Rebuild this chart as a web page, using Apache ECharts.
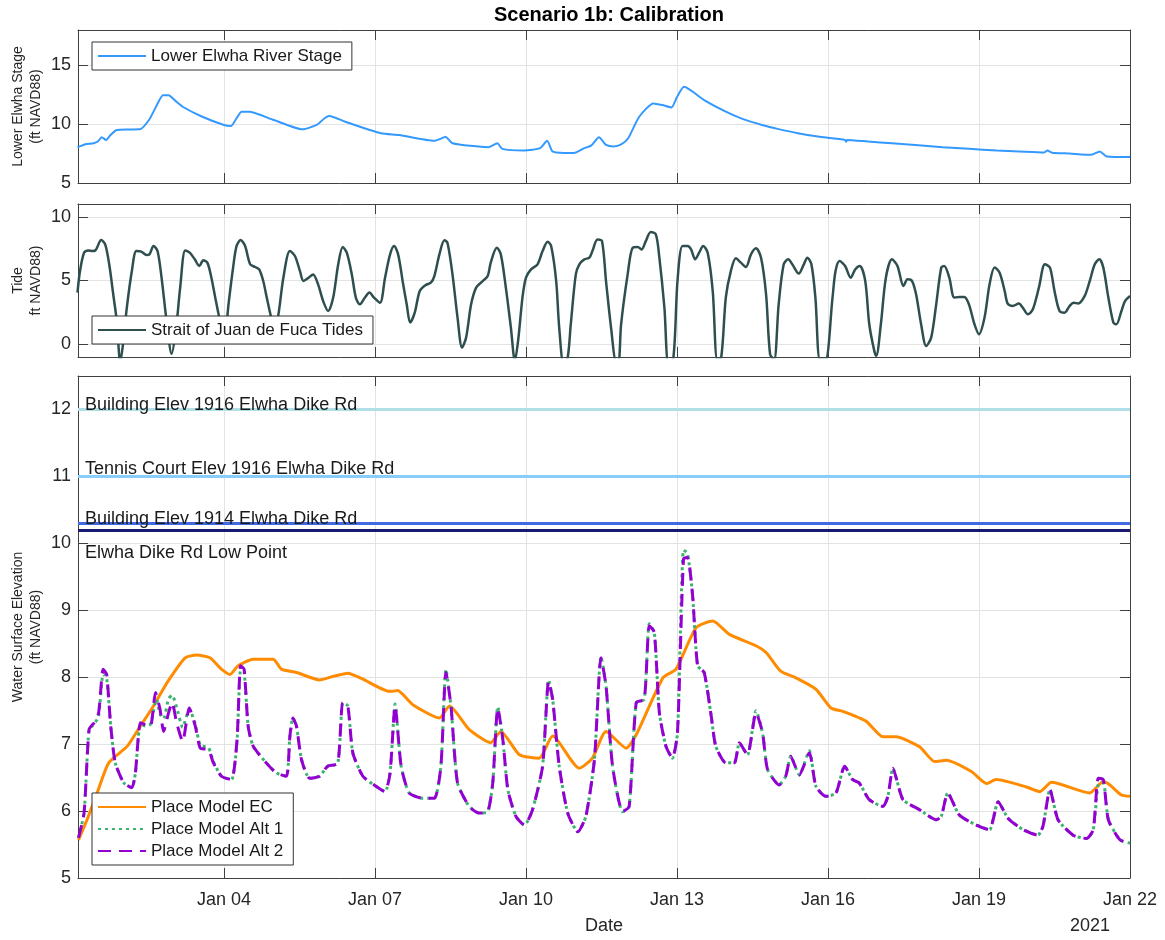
<!DOCTYPE html>
<html>
<head>
<meta charset="utf-8">
<script src="https://cdn.jsdelivr.net/npm/echarts@6/dist/echarts.min.js"></script>
<style>
  html, body { margin: 0; padding: 0; background: #fff; }
  #chart { width: 1165px; height: 940px; }
</style>
</head>
<body>
<div id="chart"></div>
<script>
// x values are days of January 2021 (1.5 = Jan 01 12:00)
const xTickDays = [4, 7, 10, 13, 16, 19, 22];
const xTickLabels = ['Jan 04', 'Jan 07', 'Jan 10', 'Jan 13', 'Jan 16', 'Jan 19', 'Jan 22'];
const stageTicks = [5, 10, 15];
const tideTicks = [0, 5, 10];
const wseTicks = [5, 6, 7, 8, 9, 10, 11, 12];

const riverStage = [
  [1.09,8.04],[1.25,8.3],[1.41,8.38],[1.5,8.55],[1.57,8.89],[1.66,8.66],[1.75,9.1],[1.87,9.51],
  [2.1,9.55],[2.33,9.56],[2.51,10.35],[2.65,11.48],[2.79,12.46],[2.9,12.46],[3.03,12.0],[3.18,11.48],
  [3.57,10.63],[4.0,9.93],[4.14,9.85],[4.25,10.5],[4.35,11.06],[4.5,11.06],[4.99,10.35],[5.56,9.56],
  [5.84,9.93],[6.0,10.5],[6.09,10.69],[6.41,10.21],[7.12,9.23],[7.48,9.08],[8.18,8.58],[8.3,8.75],
  [8.4,8.94],[8.54,8.38],[9.25,8.04],[9.43,8.38],[9.53,7.9],[9.96,7.76],[10.28,7.96],[10.42,8.58],
  [10.52,7.7],[10.6,7.59],[10.95,7.54],[11.16,7.96],[11.3,8.2],[11.45,8.89],[11.59,8.24],[11.74,8.1],
  [11.9,8.3],[12.03,8.8],[12.25,10.63],[12.53,11.76],[12.71,11.62],[12.89,11.42],[13.0,12.3],[13.14,13.17],
  [13.54,12.04],[13.97,11.06],[14.3,10.45],[14.69,9.93],[15.0,9.6],[15.4,9.23],[15.8,8.95],[16.34,8.66],
  [16.36,8.5],[16.38,8.66],[16.8,8.52],[17.27,8.38],[17.8,8.2],[18.28,8.04],[18.8,7.9],[19.35,7.76],
  [19.8,7.68],[20.29,7.59],[20.36,7.76],[20.45,7.58],[20.8,7.5],[21.22,7.39],[21.4,7.68],[21.54,7.25],
  [22.0,7.2]
];

const tide = [
  [1.09,4.05],[1.14,5.74],[1.22,7.18],[1.3,7.36],[1.4,7.31],[1.46,7.44],[1.56,8.17],[1.64,7.83],
  [1.72,6.27],[1.8,3.92],[1.87,1.83],[1.94,-1.4],[2.0,0.2],[2.07,2.87],[2.17,5.74],[2.26,7.31],
  [2.36,7.26],[2.46,7.0],[2.52,7.05],[2.6,7.7],[2.68,7.31],[2.76,5.22],[2.86,1.83],[2.96,-0.75],
  [3.05,1.31],[3.13,4.44],[3.23,7.36],[3.32,7.18],[3.42,6.66],[3.51,6.14],[3.59,6.58],[3.67,6.4],
  [3.75,5.22],[3.84,3.39],[3.92,1.83],[3.99,0.6],[4.05,1.6],[4.09,3.13],[4.19,6.27],[4.25,7.7],
  [4.33,8.17],[4.42,7.7],[4.52,6.27],[4.62,6.06],[4.7,5.87],[4.78,4.96],[4.85,3.66],[4.93,2.22],
  [5.0,1.2],[5.08,2.3],[5.18,5.22],[5.31,7.31],[5.41,6.92],[5.51,5.74],[5.58,4.96],[5.68,5.22],
  [5.77,5.48],[5.87,4.7],[5.97,3.39],[6.07,2.61],[6.17,3.66],[6.27,6.27],[6.36,7.62],[6.44,7.18],
  [6.54,5.48],[6.62,3.66],[6.7,3.13],[6.8,3.66],[6.89,4.05],[6.98,3.66],[7.1,3.26],[7.2,5.22],
  [7.3,7.05],[7.38,7.7],[7.46,7.05],[7.56,4.7],[7.63,3.13],[7.7,1.7],[7.79,2.48],[7.89,4.18],
  [8.01,4.65],[8.11,4.83],[8.18,5.35],[8.28,7.05],[8.38,8.15],[8.44,7.96],[8.54,5.48],[8.64,2.09],
  [8.73,-0.26],[8.81,0.52],[8.91,3.13],[9.01,4.44],[9.14,4.96],[9.24,5.35],[9.3,6.4],[9.42,7.57],
  [9.5,7.05],[9.6,4.44],[9.7,1.31],[9.78,-1.3],[9.85,0.5],[9.93,3.66],[10.0,5.22],[10.1,5.87],
  [10.23,6.27],[10.33,7.31],[10.43,8.04],[10.5,7.7],[10.6,4.96],[10.66,1.31],[10.75,-1.6],[10.83,-1.0],
  [10.89,1.57],[10.99,5.48],[11.06,6.27],[11.16,6.66],[11.26,6.79],[11.32,7.31],[11.42,8.22],[11.51,8.09],
  [11.59,4.96],[11.69,1.31],[11.79,-1.3],[11.84,-1.3],[11.89,1.57],[12.02,5.48],[12.12,7.57],[12.22,7.62],
  [12.3,7.44],[12.38,8.09],[12.48,8.8],[12.58,8.62],[12.65,6.79],[12.75,2.87],[12.83,-1.5],[12.93,-1.0],
  [13.01,4.96],[13.11,7.7],[13.21,7.7],[13.28,7.44],[13.36,6.66],[13.44,7.18],[13.52,7.7],[13.61,7.18],
  [13.71,4.18],[13.8,-1.2],[13.88,-1.0],[13.97,3.66],[14.07,5.74],[14.17,6.74],[14.27,6.4],[14.37,6.06],
  [14.47,7.05],[14.57,7.52],[14.67,6.79],[14.77,3.92],[14.85,-0.8],[14.93,-1.2],[15.02,3.13],[15.12,6.27],
  [15.21,6.66],[15.29,6.27],[15.42,5.54],[15.52,6.27],[15.59,6.79],[15.67,6.27],[15.75,3.66],[15.84,-1.2],
  [15.95,-1.2],[16.09,3.66],[16.15,5.74],[16.23,6.53],[16.34,6.14],[16.45,5.22],[16.54,5.87],[16.63,6.14],
  [16.74,4.96],[16.82,1.57],[16.92,-0.52],[16.96,-0.91],[17.05,1.57],[17.15,5.22],[17.27,6.66],[17.38,6.14],
  [17.5,4.57],[17.58,5.09],[17.67,4.96],[17.75,3.92],[17.85,1.57],[17.95,-0.13],[18.05,0.52],[18.15,3.13],
  [18.25,6.01],[18.31,6.14],[18.41,5.22],[18.51,3.66],[18.61,3.71],[18.71,3.71],[18.8,3.13],[18.91,1.57],
  [19.0,0.78],[19.11,2.09],[19.21,4.7],[19.31,6.01],[19.41,5.61],[19.51,4.18],[19.57,3.19],[19.67,3.0],
  [19.79,3.19],[19.87,2.87],[19.97,2.35],[20.07,2.74],[20.19,4.44],[20.31,6.27],[20.41,6.01],[20.5,4.18],
  [20.6,2.61],[20.7,2.48],[20.8,3.0],[20.88,3.26],[20.97,3.19],[21.1,3.79],[21.2,4.96],[21.3,6.27],
  [21.39,6.66],[21.47,6.01],[21.57,3.66],[21.67,1.7],[21.73,1.57],[21.83,2.61],[21.9,3.39],[22.0,3.79]
];

const modelEC = [
  [1.11,5.57],[1.28,5.87],[1.48,6.27],[1.71,6.72],[2.08,6.97],[2.34,7.27],[2.6,7.57],[2.87,7.92],
  [3.23,8.29],[3.46,8.33],[3.72,8.29],[3.95,8.12],[4.12,8.04],[4.28,8.17],[4.58,8.27],[4.98,8.27],
  [5.14,8.12],[5.44,8.07],[5.9,7.96],[6.16,8.01],[6.46,8.06],[6.76,7.97],[7.28,7.79],[7.35,7.79],
  [7.45,7.8],[7.75,7.59],[8.28,7.39],[8.48,7.57],[8.87,7.22],[9.3,7.02],[9.5,7.19],[9.87,6.84],
  [10.26,6.79],[10.53,7.12],[11.06,6.64],[11.32,6.79],[11.59,7.19],[11.99,6.94],[12.19,7.14],[12.72,7.99],
  [12.98,8.12],[13.38,8.74],[13.71,8.84],[14.04,8.64],[14.57,8.47],[14.77,8.37],[15.06,8.09],[15.36,7.99],
  [15.76,7.82],[16.06,7.54],[16.29,7.49],[16.76,7.34],[17.09,7.11],[17.35,7.11],[17.82,6.96],[18.12,6.74],
  [18.35,6.76],[18.85,6.59],[19.15,6.41],[19.34,6.47],[19.94,6.36],[20.21,6.29],[20.44,6.43],[21.2,6.27],
  [21.47,6.44],[21.6,6.39],[21.83,6.24],[22.0,6.22]
];

const modelAlt1 = [
  [1.11,5.6],[1.22,5.97],[1.32,7.22],[1.42,7.3],[1.51,7.42],[1.6,8.05],[1.67,7.98],[1.75,7.27],
  [1.84,6.72],[2.01,6.42],[2.17,6.35],[2.24,6.57],[2.34,7.3],[2.44,7.27],[2.54,7.3],[2.66,7.67],
  [2.73,7.45],[2.8,7.38],[2.9,7.68],[2.97,7.73],[3.06,7.55],[3.18,7.25],[3.31,7.52],[3.43,7.3],
  [3.53,6.98],[3.69,6.95],[3.79,6.74],[3.95,6.52],[4.15,6.47],[4.26,7.05],[4.33,8.1],[4.4,8.08],
  [4.48,7.27],[4.58,6.97],[4.84,6.72],[5.04,6.57],[5.24,6.52],[5.31,7.12],[5.37,7.39],[5.44,7.27],
  [5.54,6.77],[5.7,6.49],[5.9,6.52],[6.06,6.67],[6.26,6.71],[6.36,7.62],[6.46,7.57],[6.56,6.87],
  [6.76,6.52],[7.02,6.37],[7.2,6.29],[7.3,6.57],[7.4,7.6],[7.52,6.67],[7.68,6.27],[7.95,6.19],
  [8.18,6.19],[8.31,6.67],[8.41,8.12],[8.51,7.57],[8.64,6.42],[8.87,6.07],[9.07,5.97],[9.24,5.99],
  [9.34,6.42],[9.44,7.56],[9.54,7.07],[9.64,6.32],[9.8,5.92],[9.97,5.79],[10.13,6.02],[10.33,6.67],
  [10.45,7.96],[10.53,7.67],[10.66,6.67],[10.83,5.97],[11.03,5.69],[11.19,5.92],[11.36,6.77],[11.49,8.31],
  [11.59,7.87],[11.72,6.67],[11.92,5.99],[12.05,6.07],[12.19,7.62],[12.35,7.67],[12.45,8.8],[12.55,8.67],
  [12.65,7.47],[12.78,6.97],[12.91,6.79],[13.01,7.17],[13.13,9.9],[13.21,9.85],[13.31,9.22],[13.41,8.17],
  [13.54,8.07],[13.68,7.42],[13.77,6.97],[13.97,6.72],[14.14,6.72],[14.24,7.02],[14.4,6.84],[14.57,7.5],
  [14.7,7.17],[14.8,6.62],[15.03,6.39],[15.16,6.52],[15.26,6.82],[15.43,6.54],[15.63,6.9],[15.76,6.37],
  [15.96,6.22],[16.16,6.27],[16.33,6.67],[16.49,6.47],[16.62,6.42],[16.82,6.17],[17.09,6.07],[17.19,6.22],
  [17.29,6.64],[17.49,6.17],[17.82,6.02],[18.15,5.87],[18.25,5.92],[18.38,6.27],[18.61,5.94],[18.95,5.79],
  [19.21,5.72],[19.28,5.87],[19.38,6.14],[19.58,5.89],[19.88,5.72],[20.17,5.64],[20.27,5.77],[20.41,6.32],
  [20.57,5.87],[20.87,5.64],[21.14,5.59],[21.27,5.72],[21.37,6.4],[21.47,6.42],[21.57,5.87],[21.8,5.57],
  [22.0,5.52]
];

const modelAlt2 = [
  [1.11,5.6],[1.22,5.97],[1.32,7.22],[1.42,7.32],[1.51,7.47],[1.6,8.12],[1.67,8.04],[1.75,7.27],
  [1.84,6.72],[2.01,6.42],[2.17,6.35],[2.24,6.57],[2.34,7.32],[2.44,7.29],[2.54,7.27],[2.64,7.77],
  [2.73,7.52],[2.8,7.19],[2.9,7.47],[2.97,7.62],[3.06,7.32],[3.18,7.04],[3.31,7.54],[3.43,7.27],
  [3.53,6.94],[3.69,6.92],[3.79,6.72],[3.95,6.52],[4.15,6.47],[4.26,7.07],[4.33,8.17],[4.4,8.12],
  [4.48,7.27],[4.58,6.97],[4.84,6.72],[5.04,6.57],[5.24,6.52],[5.31,7.12],[5.37,7.39],[5.44,7.27],
  [5.54,6.77],[5.7,6.49],[5.9,6.52],[6.06,6.67],[6.26,6.71],[6.36,7.62],[6.46,7.57],[6.56,6.87],
  [6.76,6.52],[7.02,6.37],[7.2,6.29],[7.3,6.57],[7.4,7.57],[7.52,6.67],[7.68,6.27],[7.95,6.19],
  [8.18,6.19],[8.31,6.67],[8.41,8.07],[8.51,7.57],[8.64,6.42],[8.87,6.07],[9.07,5.97],[9.24,5.99],
  [9.34,6.42],[9.44,7.54],[9.54,7.07],[9.64,6.32],[9.8,5.92],[9.97,5.79],[10.13,6.02],[10.33,6.67],
  [10.45,7.94],[10.53,7.67],[10.66,6.67],[10.83,5.97],[11.03,5.69],[11.19,5.92],[11.36,6.77],[11.49,8.29],
  [11.59,7.87],[11.72,6.67],[11.92,5.99],[12.05,6.07],[12.19,7.62],[12.35,7.67],[12.45,8.77],[12.55,8.67],
  [12.65,7.47],[12.78,6.97],[12.91,6.79],[13.01,7.17],[13.13,9.77],[13.21,9.79],[13.31,9.22],[13.41,8.17],
  [13.54,8.07],[13.68,7.42],[13.77,6.97],[13.97,6.72],[14.14,6.72],[14.24,7.02],[14.4,6.84],[14.57,7.47],
  [14.7,7.17],[14.8,6.62],[15.03,6.39],[15.16,6.52],[15.26,6.82],[15.43,6.54],[15.63,6.87],[15.76,6.37],
  [15.96,6.22],[16.16,6.27],[16.33,6.67],[16.49,6.47],[16.62,6.42],[16.82,6.17],[17.09,6.07],[17.19,6.22],
  [17.29,6.64],[17.49,6.17],[17.82,6.02],[18.15,5.87],[18.25,5.92],[18.38,6.27],[18.61,5.94],[18.95,5.79],
  [19.21,5.72],[19.28,5.87],[19.38,6.14],[19.58,5.89],[19.88,5.72],[20.17,5.64],[20.27,5.77],[20.41,6.32],
  [20.57,5.87],[20.87,5.64],[21.14,5.59],[21.27,5.72],[21.37,6.49],[21.47,6.47],[21.57,5.87],[21.8,5.57],
  [22.0,5.52]
];

const thresholdNames = ['Building Elev 1916 Elwha Dike Rd', 'Tennis Court Elev 1916 Elwha Dike Rd',
  'Building Elev 1914 Elwha Dike Rd', 'Elwha Dike Rd Low Point'];
const thresholdValues = [12, 11, 10.3, 10.2];

// styles
const thresholdColors = ['#b0e0e6', '#87cefa', '#4169e1', '#191970'];
const thresholdLabelPos = ['insideStartTop', 'insideStartTop', 'insideStartTop', 'insideStartBottom'];
const thresholdLabelDy = [-5, -2, -5, 14];

const FONT = 'Liberation Sans, Arial, Helvetica, sans-serif';
const INK = '#262626';
const AXIS = '#404040';
const GRIDLINE = '#e3e3e3';
const X_MIN = 1.1, X_MAX = 22;

const grids = [
  { left: 78, right: 35, top: 30, height: 153, outerBoundsMode: 'none' },
  { left: 78, right: 35, top: 204, height: 153, outerBoundsMode: 'none' },
  { left: 78, right: 35, top: 376, height: 502, outerBoundsMode: 'none' }
];

const yRanges = [
  { min: 5, max: 18, ticks: stageTicks, name: 'Lower Elwha Stage\n(ft NAVD88)' },
  { min: -1, max: 11, ticks: tideTicks, name: 'Tide\nft NAVD88)' },
  { min: 5, max: 12.5, ticks: wseTicks, name: 'Water Surface Elevation\n(ft NAVD88)' }
];

const tickStyle = { show: true, inside: true, length: 10, lineStyle: { color: AXIS, width: 1 } };
const lineStyleAxis = { show: true, onZero: false, lineStyle: { color: AXIS, width: 1 } };

const xAxes = [];
const yAxes = [];
grids.forEach((g, i) => {
  const last = i === grids.length - 1;
  xAxes.push({
    type: 'value', gridIndex: i, min: X_MIN, max: X_MAX, position: 'bottom',
    axisLine: lineStyleAxis,
    axisTick: Object.assign({ customValues: xTickDays }, tickStyle),
    axisLabel: {
      show: last, customValues: xTickDays, margin: 13,
      color: INK, fontSize: 18, fontFamily: FONT,
      formatter: v => xTickLabels[xTickDays.indexOf(Math.round(v))] || ''
    },
    splitLine: { show: true, lineStyle: { color: GRIDLINE, width: 1 } },
    name: last ? 'Date' : '', nameLocation: 'middle', nameGap: 39, nameMoveOverlap: false,
    nameTextStyle: { color: INK, fontSize: 18, fontFamily: FONT }
  });
  xAxes.push({
    type: 'value', gridIndex: i, min: X_MIN, max: X_MAX, position: 'top',
    axisLine: lineStyleAxis,
    axisTick: Object.assign({ customValues: xTickDays }, tickStyle),
    axisLabel: { show: false },
    splitLine: { show: false }
  });
  const r = yRanges[i];
  yAxes.push({
    type: 'value', gridIndex: i, min: r.min, max: r.max, position: 'left',
    axisLine: lineStyleAxis,
    axisTick: Object.assign({ customValues: r.ticks }, tickStyle),
    axisLabel: { customValues: r.ticks, margin: 7, color: INK, fontSize: 18, fontFamily: FONT },
    splitLine: { show: true, lineStyle: { color: GRIDLINE, width: 1 } },
    name: r.name, nameLocation: 'middle', nameGap: 33, nameRotate: 90, nameMoveOverlap: false,
    nameTextStyle: { color: INK, fontSize: 14, lineHeight: 18, fontFamily: FONT }
  });
  yAxes.push({
    type: 'value', gridIndex: i, min: r.min, max: r.max, position: 'right',
    axisLine: lineStyleAxis,
    axisTick: Object.assign({ customValues: r.ticks }, tickStyle),
    axisLabel: { show: false },
    splitLine: { show: false }
  });
});

const legendBase = {
  orient: 'vertical', backgroundColor: '#fff', borderColor: '#333', borderWidth: 1,
  padding: [5, 10, 5, 5], itemWidth: 48, itemHeight: 14, itemGap: 4,
  itemStyle: { opacity: 0, borderWidth: 0 },
  textStyle: { color: '#1a1a1a', fontSize: 17, lineHeight: 18, fontFamily: FONT },
  selectedMode: false
};

const option = {
  animation: false,
  backgroundColor: '#fff',
  textStyle: { fontFamily: FONT },
  title: {
    text: 'Scenario 1b: Calibration', left: 604, top: 0, textAlign: 'center',
    textStyle: { fontSize: 20, fontWeight: 'bold', color: '#000', fontFamily: FONT }
  },
  grid: grids,
  xAxis: xAxes,
  yAxis: yAxes,
  legend: [
    Object.assign({}, legendBase, { left: 92, top: 42, data: ['Lower Elwha River Stage'] }),
    Object.assign({}, legendBase, { left: 92, top: 316, data: ['Strait of Juan de Fuca Tides'] }),
    Object.assign({}, legendBase, { left: 92, top: 793, data: ['Place Model EC', 'Place Model Alt 1', 'Place Model Alt 2'] })
  ],
  graphic: [{
    type: 'text', left: 1070, top: 917,
    style: { text: '2021', fill: INK, font: '18px ' + FONT }
  }],
  series: [
    {
      name: 'Lower Elwha River Stage', type: 'line', xAxisIndex: 0, yAxisIndex: 0,
      data: riverStage, symbol: 'none', smooth: 0.2,
      lineStyle: { color: '#3399ff', width: 2 }, itemStyle: { color: '#3399ff' }
    },
    {
      name: 'Strait of Juan de Fuca Tides', type: 'line', xAxisIndex: 2, yAxisIndex: 2,
      data: tide, symbol: 'none', smooth: 0.3,
      lineStyle: { color: '#2f4f4f', width: 2.5 }, itemStyle: { color: '#2f4f4f' }
    },
    {
      name: 'Place Model EC', type: 'line', xAxisIndex: 4, yAxisIndex: 4,
      data: modelEC, symbol: 'none', smooth: 0.2,
      lineStyle: { color: '#ff8c00', width: 3 }, itemStyle: { color: '#ff8c00' },
      markLine: {
        silent: true, symbol: 'none', animation: false,
        data: thresholdValues.map((v, i) => ({
          yAxis: v,
          lineStyle: { color: thresholdColors[i], width: 3, type: 'solid' },
          label: {
            show: true, formatter: thresholdNames[i], position: thresholdLabelPos[i],
            distance: [7, thresholdLabelDy[i]],
            color: '#1a1a1a', fontSize: 18, fontFamily: FONT
          }
        }))
      }
    },
    {
      name: 'Place Model Alt 1', type: 'line', xAxisIndex: 4, yAxisIndex: 4,
      data: modelAlt1, symbol: 'none', smooth: 0.2,
      lineStyle: { color: '#3cb371', width: 3, type: [3, 4] }, itemStyle: { color: '#3cb371' }
    },
    {
      name: 'Place Model Alt 2', type: 'line', xAxisIndex: 4, yAxisIndex: 4,
      data: modelAlt2, symbol: 'none', smooth: 0.2,
      lineStyle: { color: '#9400d3', width: 3, type: [13, 8] }, itemStyle: { color: '#9400d3' }
    }
  ]
};

const chart = echarts.init(document.getElementById('chart'), null, { renderer: 'canvas' });
chart.setOption(option);
</script>
</body>
</html>
